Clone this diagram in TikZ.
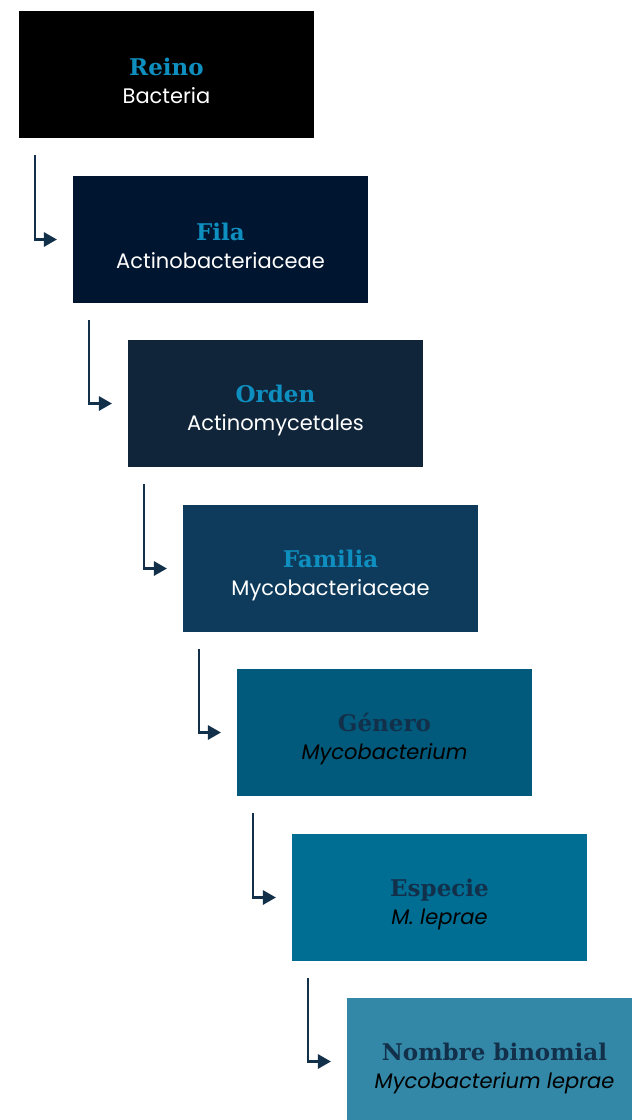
\documentclass[tikz,border=0pt]{standalone}
\usepackage{fontspec}
\usetikzlibrary{arrows}
\newfontfamily\rankfont{DejaVu Serif}
\newfontfamily\taxonfont{Poppins}
\definecolor{reinobox}{HTML}{000000}
\definecolor{filabox}{HTML}{00152F}
\definecolor{ordenbox}{HTML}{10253A}
\definecolor{familiabox}{HTML}{0E3B5B}
\definecolor{generobox}{HTML}{015A7B}
\definecolor{especiebox}{HTML}{006D93}
\definecolor{nombrebox}{HTML}{3388A8}
\definecolor{rankcyan}{HTML}{0E8FBF}
\definecolor{ranknavy}{HTML}{13304B}
\newcommand{\lighttaxon}[2]{{\rule{0pt}{31pt}\rankfont\bfseries\fontsize{23}{28}\selectfont\color{rankcyan}#1}\\{\taxonfont\color{white}#2}}
\newcommand{\darktaxon}[2]{{\rule{0pt}{31pt}\rankfont\bfseries\fontsize{23}{28}\selectfont\color{ranknavy}#1}\\{\taxonfont\itshape\color{black}#2}}
\tikzstyle{taxon}=[rectangle,minimum width=295pt,minimum height=127pt,inner sep=0pt,align=center,font=\fontsize{21}{28}\selectfont]
\tikzstyle{edge}=[draw,line width=2.6pt,ranknavy,-triangle 60]

\begin{document}
\begin{tikzpicture}[x=1pt,y=-1pt]
				\useasboundingbox (0,0) rectangle (632,1120);
				% First we draw the boxes
				\foreach \pos/\name/\shade/\label in {{(166.5,74.5)/reino/reinobox/{\lighttaxon{Reino}{Bacteria}}},
										{(220.5,239.5)/fila/filabox/{\lighttaxon{Fila}{Actinobacteriaceae}}},
										{(275.5,403.5)/orden/ordenbox/{\lighttaxon{Orden}{Actinomycetales}}},
										{(330.5,568.5)/familia/familiabox/{\lighttaxon{Familia}{Mycobacteriaceae}}},
										{(384.5,732.5)/genero/generobox/{\darktaxon{Género}{Mycobacterium}}},
										{(439.5,897.5)/especie/especiebox/{\darktaxon{Especie}{M. leprae}}},
										{(494.5,1061.5)/nombre/nombrebox/{\darktaxon{Nombre binomial}{Mycobacterium leprae}}}}
				\node[taxon,fill=\shade] (\name) at \pos {\label};
	
				% Connect each box to the next one
				\foreach \source/ \dest in {reino/fila, fila/orden, orden/familia, familia/genero, genero/especie, especie/nombre}
				\path[edge] ([xshift=16pt,yshift=-17pt]\source.south west) |- ([xshift=-16pt]\dest.west);
			\end{tikzpicture}
\end{document}
